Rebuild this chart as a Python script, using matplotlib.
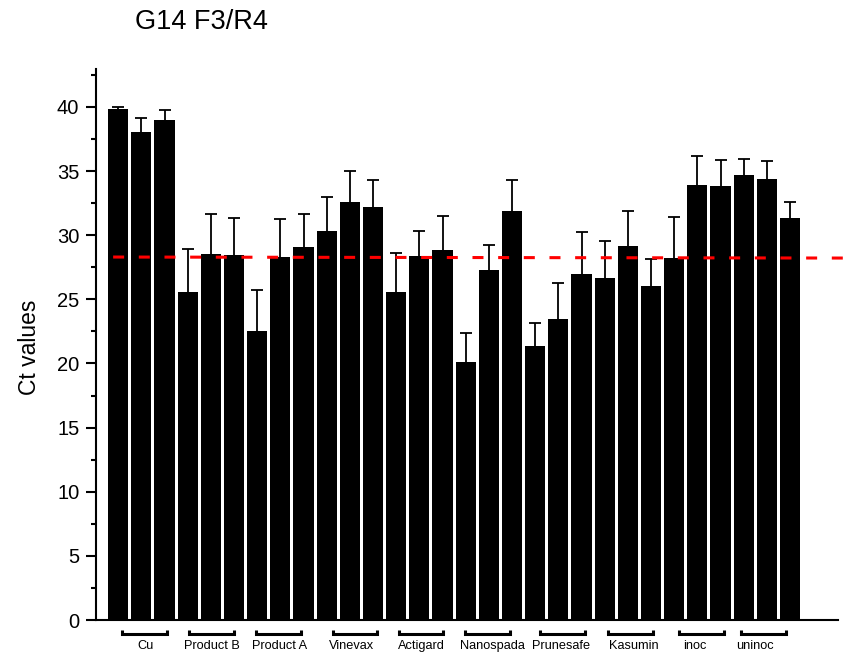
import matplotlib
matplotlib.use("Agg")
import matplotlib.pyplot as plt
import numpy as np

plt.rcParams['font.family'] = ['Liberation Sans', 'DejaVu Sans']

# Treatment groups (three replicate bars each)
groups = ["Cu", "Product B", "Product A", "Vinevax", "Actigard",
          "Nanospada", "Prunesafe", "Kasumin", "inoc", "uninoc"]

# Mean Ct value of each bar, in plotting order
ct_means = [39.82, 38.08, 39.01,
            25.58, 28.51, 28.46,
            22.51, 28.28, 29.10,
            30.32, 32.63, 32.19,
            25.58, 28.35, 28.82,
            20.14, 27.26, 31.91,
            21.36, 23.48, 26.98,
            26.67, 29.16, 26.02,
            28.22, 33.90, 33.85,
            34.66, 34.37, 31.34]

# Upper error (SD) of each bar
ct_err = [0.21, 1.09, 0.73,
          3.32, 3.14, 2.85,
          3.20, 2.98, 2.55,
          2.68, 2.41, 2.10,
          3.03, 1.97, 2.67,
          2.25, 1.95, 2.41,
          1.83, 2.80, 3.24,
          2.90, 2.75, 2.10,
          3.24, 2.31, 2.03,
          1.27, 1.43, 1.24]

# Cut-off Ct value shown as the dashed reference line
ct_cutoff = 28.3

# small hand-placement nudges of the group brackets / labels (bar units)
bracket_nudge = [0.13, 0.02, -0.09, 0.22, 0.07, -0.04, 0.16, 0.12, 0.16, -0.13]
label_nudge = [0.18, 0.05, -0.05, 0.06, 0.07, 0.16, 0.13, 0.27, -0.11, -0.52]

W, H, DPI = 847, 659, 100
fig = plt.figure(figsize=(W / DPI, H / DPI), dpi=DPI)
ax = fig.add_axes([96 / W, (H - 620) / H, (838 - 96) / W, (620 - 68.5) / H])

x = np.arange(len(ct_means))
ax.bar(x, ct_means, width=0.87, color='black', linewidth=0, zorder=2)
_, caps, _ = ax.errorbar(x, ct_means, yerr=[np.zeros(len(ct_err)), ct_err],
                         fmt='none', ecolor='black', elinewidth=1.3,
                         capsize=4.3, capthick=1.3, zorder=3)
# only the upper caps are shown
caps[0].set_visible(False)

ax.plot([-0.22, 31.46], [ct_cutoff, ct_cutoff - 0.08], color='#ff0000',
        linewidth=2.2, dashes=(3.6, 4.8), clip_on=False, zorder=4)

ax.set_xlim(-0.96, 31.07)
ax.set_ylim(0, 43)
ax.set_yticks(np.arange(0, 41, 5))
ax.set_yticks(np.arange(2.5, 43, 5), minor=True)
ax.set_xticks([])

for side in ('top', 'right'):
    ax.spines[side].set_visible(False)
ax.spines['left'].set_linewidth(1.5)
ax.spines['bottom'].set_linewidth(1.5)
ax.tick_params(axis='y', which='major', direction='out', length=7, width=1.5,
               labelsize=14.5, pad=5)
ax.tick_params(axis='y', which='minor', direction='out', length=3.5, width=1.5)

# group brackets and names under the axis
for g, name in enumerate(groups):
    c = 3 * g + 1 + bracket_nudge[g]
    ax.plot([c - 0.97, c - 0.97, c + 0.97, c + 0.97], [-0.8, -1.1, -1.1, -0.8],
            color='black', linewidth=2.2, solid_capstyle='butt',
            solid_joinstyle='miter', clip_on=False)
    ax.text(3 * g + 1 + label_nudge[g], -2.0, name, ha='center', va='center',
            fontsize=9.2)

fig.text(201 / W, 1 - 22 / H, "G14 F3/R4", ha='center', va='center',
         fontsize=19.5)
fig.text(30 / W, 1 - 347 / H, "Ct values", ha='center', va='center',
         rotation=90, fontsize=16.5)

fig.savefig("out.png", dpi=DPI)
